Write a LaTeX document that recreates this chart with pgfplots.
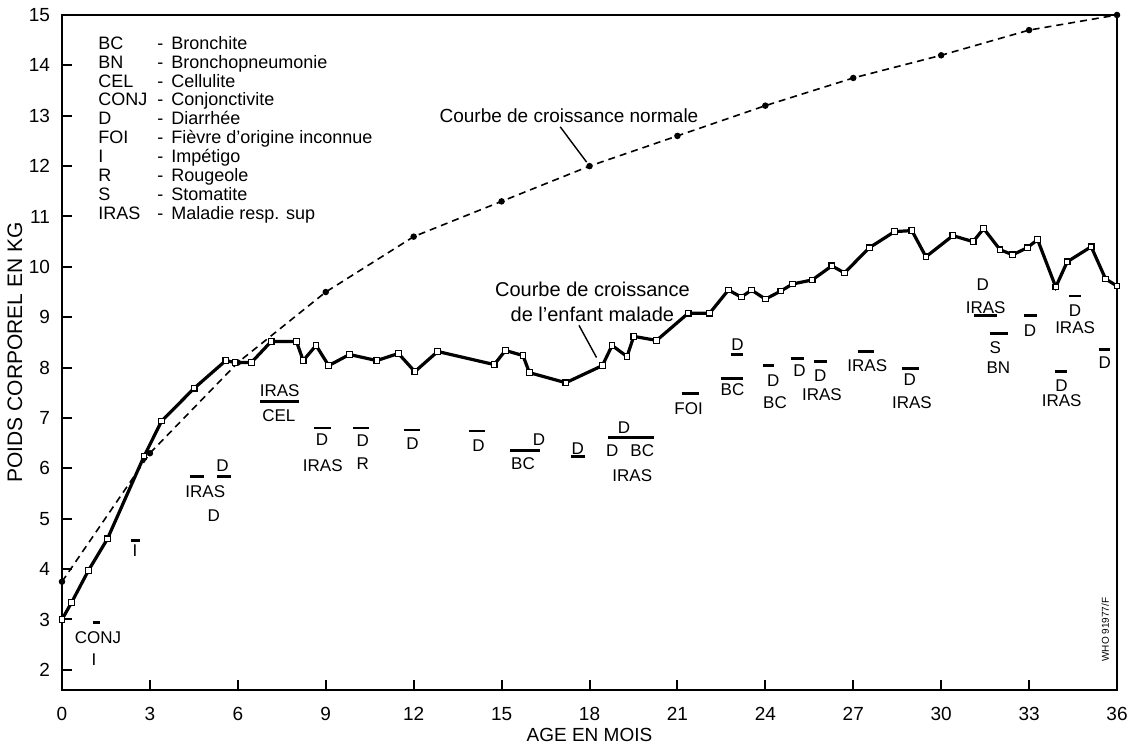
\documentclass[border=0pt]{standalone}
\usepackage{pgfplots}
\pgfplotsset{compat=1.18}
\usepackage{fontspec}
\setmainfont{Liberation Sans}

\pgfplotstableread{
m kg
0 3.75
3 6.3
6 8.1
9 9.5
12 10.6
15 11.3
18 12.0
21 12.6
24 13.2
27 13.75
30 14.2
33 14.7
36 15.0
}\normal

\pgfplotstableread{
m kg
0.0 3.0
0.33 3.34
0.9 3.97
1.55 4.6
2.8 6.24
3.4 6.94
4.51 7.59
5.59 8.14
5.9 8.1
6.46 8.1
7.14 8.52
8.0 8.52
8.23 8.14
8.67 8.44
9.1 8.04
9.81 8.26
10.74 8.14
11.48 8.28
12.04 7.92
12.82 8.32
14.75 8.06
15.13 8.34
15.73 8.24
15.95 7.9
17.19 7.7
18.44 8.04
18.77 8.44
19.28 8.22
19.51 8.62
20.29 8.54
21.37 9.08
22.1 9.08
22.74 9.54
23.18 9.4
23.53 9.54
24.0 9.36
24.53 9.52
24.93 9.66
25.6 9.74
26.27 10.02
26.7 9.88
27.55 10.38
28.41 10.7
29.0 10.72
29.48 10.2
30.4 10.62
31.09 10.5
31.45 10.76
32.01 10.34
32.44 10.24
32.94 10.38
33.29 10.54
33.91 9.6
34.3 10.1
35.12 10.4
35.61 9.76
36.0 9.62
}\malade

\newcommand{\an}[3]{\node[font=\fontsize{8.5}{9}\selectfont, inner sep=0pt] at (axis cs:#1,#2) {#3};}
\newcommand{\br}[3]{\draw[line width=1.4pt] (axis cs:#1,#3) -- (axis cs:#2,#3);}

\begin{document}
\begin{tikzpicture}[x=1pt,y=1pt]
\begin{axis}[
  at={(0,0)}, anchor=south west,
  scale only axis, width=527.5pt, height=337.5pt,
  xmin=0, xmax=36, ymin=1.6, ymax=15,
  xtick={0,3,...,36}, ytick={2,3,...,15},
  tick align=inside, xtick pos=bottom, ytick pos=left,
  major tick length=5pt,
  axis line style={line width=1.1pt},
  every tick/.append style={black, line width=1pt},
  tick label style={font=\fontsize{9.5}{10}\selectfont},
  yticklabel style={xshift=-2.5pt},
  xticklabel style={yshift=-5pt},
  /pgf/number format/assume math mode=true,
  xlabel={AGE EN MOIS}, ylabel={POIDS CORPOREL EN KG},
  label style={font=\fontsize{9.5}{10}\selectfont},
  ylabel style={font=\fontsize{10.5}{11}\selectfont},
  xlabel style={at={(axis description cs:0.5,-0.0667)}, anchor=center},
  ylabel style={at={(axis description cs:-0.0446,0.5)}, anchor=center},
  clip=false,
]
\addplot[black, line width=0.8pt, dash pattern=on 3.5pt off 2.5pt,
  mark=*, mark size=1.2pt, mark options={solid}] table[x=m,y=kg] {\normal};
\addplot[black, line width=1.6pt, mark=square*, mark size=1.4pt,
  mark options={solid, fill=white, line width=0.6pt}] table[x=m,y=kg] {\malade};

% legend
\node[anchor=north west, inner sep=0pt, font=\fontsize{9}{9.4}\selectfont, align=left]
  at ([xshift=18pt,yshift=-10.5pt]axis description cs:0,1) {%
  \begin{tabular}{@{}p{29.5pt}@{}l@{}}
  BC & -\hspace{4pt}Bronchite\\
  BN & -\hspace{4pt}Bronchopneumonie\\
  CEL & -\hspace{4pt}Cellulite\\
  CONJ & -\hspace{4pt}Conjonctivite\\
  D & -\hspace{4pt}Diarrhée\\
  FOI & -\hspace{4pt}Fièvre d'origine inconnue\\
  I & -\hspace{4pt}Impétigo\\
  R & -\hspace{4pt}Rougeole\\
  S & -\hspace{4pt}Stomatite\\
  IRAS & -\hspace{4pt}Maladie resp. sup
  \end{tabular}};

% curve labels
\node[font=\fontsize{9.5}{12}\selectfont, inner sep=0pt] at (axis cs:17.3,13.0) {Courbe de croissance normale};
\draw[line width=0.7pt] (axis cs:17.0,12.78) -- (axis cs:17.9,12.08);
\node[font=\fontsize{10}{12.5}\selectfont, inner sep=0pt, align=center] at (axis cs:18.1,9.31) {Courbe de croissance\\de l'enfant malade};
\draw[line width=0.7pt] (axis cs:17.64,8.84) -- (axis cs:18.24,8.2);

% annotations
\an{1.23}{2.64}{CONJ} \br{1.05}{1.3}{2.94}
\an{1.09}{2.2}{I}
\an{2.49}{4.36}{I} \br{2.35}{2.65}{4.56}
\an{4.89}{5.54}{IRAS} \br{4.37}{4.83}{5.84}
\an{5.48}{6.06}{D} \br{5.3}{5.75}{5.84}
\an{5.18}{5.06}{D}
\an{7.43}{7.54}{IRAS} \br{6.77}{8.1}{7.32}
\an{7.4}{7.04}{CEL}
\an{8.87}{6.56}{D} \br{8.6}{9.18}{6.8}
\an{8.9}{6.06}{IRAS}
\an{10.26}{6.54}{D} \br{9.93}{10.48}{6.8}
\an{10.26}{6.1}{R}
\an{11.96}{6.5}{D} \br{11.67}{12.21}{6.76}
\an{14.21}{6.46}{D} \br{13.89}{14.43}{6.74}
\an{15.73}{6.1}{BC} \br{15.29}{16.3}{6.36}
\an{16.28}{6.56}{D}
\an{17.6}{6.4}{D} \br{17.38}{17.86}{6.24}
\an{19.18}{6.8}{D} \br{18.64}{20.19}{6.62}
\an{18.78}{6.36}{D}
\an{19.8}{6.36}{BC}
\an{19.46}{5.86}{IRAS}
\an{21.38}{7.18}{FOI} \br{21.14}{21.72}{7.48}
\an{23.05}{8.46}{D} \br{22.84}{23.25}{8.26}
\an{22.88}{7.56}{BC} \br{22.47}{23.25}{7.78}
\an{24.27}{7.74}{D} \br{23.93}{24.3}{8.04}
\an{24.33}{7.3}{BC}
\an{25.17}{7.94}{D} \br{24.87}{25.33}{8.18}
\an{25.87}{7.84}{D} \br{25.67}{26.1}{8.12}
\an{25.93}{7.46}{IRAS}
\an{27.48}{8.04}{IRAS} \br{27.17}{27.72}{8.32}
\an{28.93}{7.76}{D} \br{28.66}{29.24}{7.98}
\an{29.0}{7.3}{IRAS}
\an{31.42}{9.64}{D}
\an{31.52}{9.2}{IRAS} \br{31.12}{31.91}{9.04}
\an{31.85}{8.4}{S} \br{31.68}{32.27}{8.68}
\an{31.95}{8.0}{BN}
\an{33.03}{8.74}{D} \br{32.83}{33.26}{9.04}
\an{34.57}{9.14}{D} \br{34.37}{34.76}{9.42}
\an{34.57}{8.8}{IRAS}
\an{34.11}{7.64}{D} \br{33.88}{34.3}{7.92}
\an{34.11}{7.34}{IRAS}
\an{35.58}{8.1}{D} \br{35.38}{35.77}{8.36}
\node[font=\fontsize{5}{6}\selectfont, rotate=90, inner sep=0pt] at (axis cs:35.6,2.8) {WHO 91977/F};
\end{axis}
\pgfresetboundingbox
\path[use as bounding box] (-31,-29.5) rectangle (536.5,345);
\end{tikzpicture}
\end{document}
